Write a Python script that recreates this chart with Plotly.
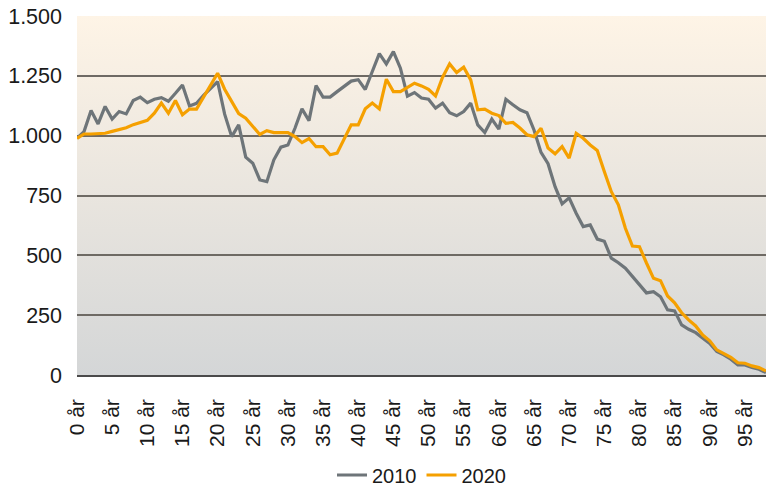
import base64
import plotly.graph_objects as go

# ages 0..98
ages = list(range(99))
tick_vals = list(range(0, 100, 5))
tick_text = [f"{a} år" for a in tick_vals]

pop_2010 = [
    990, 1017, 1105, 1049, 1122, 1069, 1101, 1091, 1147, 1161,
    1138, 1152, 1159, 1144, 1177, 1212, 1124, 1135, 1168, 1198,
    1226, 1090, 996, 1045, 910, 885, 815, 808, 899, 952,
    961, 1031, 1112, 1063, 1209, 1161, 1161, 1184, 1208, 1228,
    1234, 1193, 1268, 1343, 1300, 1351, 1282, 1165, 1180, 1157,
    1152, 1115, 1136, 1096, 1083, 1101, 1136, 1045, 1013, 1069,
    1027, 1152, 1129, 1108, 1096, 1024, 930, 883, 787, 715,
    740, 676, 620, 627, 568, 559, 488, 469, 446, 413,
    380, 343, 348, 327, 272, 268, 209, 191, 177, 153,
    132, 98, 84, 66, 42, 42, 31, 24, 10,
]

pop_2020 = [
    989, 1007, 1007, 1007, 1010, 1018, 1026, 1033, 1046, 1055,
    1064, 1094, 1136, 1094, 1147, 1087, 1111, 1111, 1160, 1212,
    1261, 1194, 1142, 1092, 1073, 1040, 1005, 1021, 1013, 1013,
    1013, 996, 971, 988, 954, 954, 920, 927, 989, 1045,
    1045, 1112, 1136, 1112, 1236, 1184, 1184, 1202, 1219, 1208,
    1194, 1166, 1244, 1300, 1264, 1286, 1233, 1108, 1111, 1094,
    1084, 1052, 1055, 1032, 1004, 996, 1031, 948, 924, 954,
    906, 1010, 989, 961, 938, 850, 766, 711, 613, 539,
    536, 468, 404, 394, 330, 302, 260, 230, 205, 167,
    143, 105, 91, 74, 51, 49, 38, 31, 17,
]

FONT = "Liberation Sans, Arial, sans-serif"

# vertical gradient behind the plot area
svg = (
    "<svg xmlns='http://www.w3.org/2000/svg' width='10' height='100' "
    "viewBox='0 0 10 100' preserveAspectRatio='none'>"
    "<defs><linearGradient id='g' x1='0' y1='0' x2='0' y2='1'>"
    "<stop offset='0' stop-color='#FEF4E6'/>"
    "<stop offset='1' stop-color='#D4D6D7'/>"
    "</linearGradient></defs>"
    "<rect width='10' height='100' fill='url(#g)'/></svg>"
)
bg_src = "data:image/svg+xml;base64," + base64.b64encode(svg.encode()).decode()

fig = go.Figure()
fig.add_trace(go.Scatter(
    x=ages, y=pop_2010, name="2010", mode="lines",
    line=dict(color="#6E7579", width=3.2),
))
fig.add_trace(go.Scatter(
    x=ages, y=pop_2020, name="2020", mode="lines",
    line=dict(color="#F5A000", width=3.2),
))

fig.add_layout_image(dict(
    source=bg_src, xref="paper", yref="paper", x=0, y=1,
    sizex=1, sizey=1, xanchor="left", yanchor="top",
    sizing="stretch", layer="below",
))

fig.update_layout(
    width=766, height=486,
    margin=dict(l=77, r=0, t=16, b=111),
    paper_bgcolor="white",
    plot_bgcolor="rgba(0,0,0,0)",
    separators=",.",
    font=dict(family=FONT, size=21, color="#1A1A1A"),
    showlegend=True,
    legend=dict(
        orientation="h", x=0.5, xanchor="center",
        yref="container", y=0.0226, yanchor="middle",
        font=dict(size=20), bgcolor="rgba(0,0,0,0)",
    ),
    xaxis=dict(
        range=[0, 98], tickmode="array", tickvals=tick_vals, ticktext=tick_text,
        tickangle=-90, showgrid=False, zeroline=False,
        showline=True, linecolor="#4A4A4A", linewidth=1.5,
        ticks="", ticklabelstandoff=14, automargin=False,
    ),
    yaxis=dict(
        range=[0, 1500], dtick=250, tickformat=",d",
        tickfont=dict(size=21.5),
        showgrid=True, gridcolor="#6E6A64", gridwidth=1.5,
        zeroline=False, showline=False, ticks="", ticklabelstandoff=14,
        automargin=False,
    ),
)

# drop the default page margin so the figure sits at the window corner
fig.write_html(
    "out.html",
    config={"displayModeBar": False},
    post_script="document.body.style.margin = '0';",
)
